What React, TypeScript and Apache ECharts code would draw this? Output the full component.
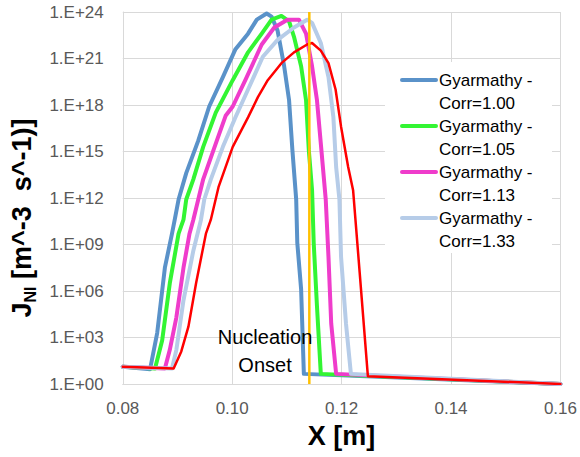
import React, { useEffect, useRef } from "react";
import * as echarts from "echarts";

// Axis ranges and ticks
const X_MIN = 0.08;
const X_MAX = 0.16;
const X_STEP = 0.02;
const Y_MIN = 1;
const Y_MAX = 1e24;
const Y_DECADE_STEP = 3;

// Nucleation onset position (m)
const ONSET_X = 0.1141;

const legendNames = [
  "Gyarmathy - Corr=1.00",
  "Gyarmathy - Corr=1.05",
  "Gyarmathy - Corr=1.13",
  "Gyarmathy - Corr=1.33",
];
const legendColors = ["#5a92c9", "#33f533", "#ef3ccb", "#b6cce8"];
const redName = "Reference";
const redColor = "#ff0000";
const onsetColor = "#ffc000";

// [x (m), J_NI (m^-3 s^-1)]
const corr100: [number, number][] = [
  [0.08, 13], [0.085, 9], [0.0863, 2e3], [0.0877, 3.2e7], [0.089, 5e9], [0.0895, 4e10],
  [0.0902, 8e11], [0.0916, 4e13], [0.0938, 5e15], [0.0958, 8e17], [0.0983, 6.3e19],
  [0.1006, 4e21], [0.1029, 4e22], [0.1045, 3.2e23], [0.1063, 8e23], [0.1072, 5e23],
  [0.1083, 6.3e22], [0.1095, 3.2e20], [0.1104, 2e18], [0.111, 1.3e15], [0.1117, 8e11],
  [0.1119, 1.3e9], [0.1126, 1.3e6], [0.1131, 4.5], [0.16, 1],
];
const corr105: [number, number][] = [
  [0.08, 13], [0.0859, 10], [0.0872, 630], [0.0886, 3.2e6], [0.0902, 5e9], [0.0911, 4e10],
  [0.0916, 8e11], [0.0929, 1.6e13], [0.0947, 2e15], [0.097, 3.2e17], [0.1001, 4e19],
  [0.1029, 2.5e21], [0.1054, 4e22], [0.1072, 3.2e23], [0.109, 5.6e23], [0.1104, 2.5e23],
  [0.1113, 2.5e22], [0.1126, 3.2e20], [0.1135, 2e18], [0.114, 1.3e15], [0.1146, 3.2e12],
  [0.1149, 1.3e9], [0.1155, 1e5], [0.1162, 4.5], [0.16, 1],
];
const corr113: [number, number][] = [
  [0.08, 13], [0.0877, 10], [0.0886, 160], [0.0898, 2e4], [0.0911, 3.2e7], [0.0922, 5e9],
  [0.0929, 4e10], [0.0938, 8e11], [0.0947, 1.6e13], [0.097, 3.2e15], [0.0988, 2e17],
  [0.1001, 8e17], [0.1024, 4e19], [0.1054, 8e21], [0.1077, 1e23], [0.1101, 3.2e23],
  [0.1122, 3.2e23], [0.1135, 4e22], [0.1146, 3.2e20], [0.1155, 2e18], [0.1163, 1.3e15],
  [0.1171, 8e11], [0.1176, 1.6e8], [0.1181, 8e3], [0.119, 4.5], [0.16, 1],
];
const corr133: [number, number][] = [
  [0.08, 13], [0.089, 10], [0.0898, 160], [0.0911, 2.5e5], [0.0929, 4e8], [0.0943, 4e10],
  [0.0949, 8e11], [0.0961, 1.6e13], [0.0983, 2e15], [0.1006, 1.6e17], [0.1029, 1e19],
  [0.1056, 1.3e21], [0.1083, 1.6e22], [0.1113, 1e23], [0.1137, 3.2e23], [0.1146, 2e23],
  [0.1162, 1e22], [0.1176, 6.3e19], [0.1185, 1.6e17], [0.119, 1e14], [0.1196, 8e11],
  [0.1199, 1.6e8], [0.1208, 8e3], [0.1217, 4.5], [0.16, 1],
];
const redCurve: [number, number][] = [
  [0.08, 13], [0.0893, 10], [0.0907, 126], [0.092, 5e3], [0.0934, 3.2e6], [0.0952, 5e9],
  [0.0961, 4e10], [0.0975, 5e12], [0.1001, 2e15], [0.1029, 1.6e17], [0.1047, 3.2e18],
  [0.1065, 4e19], [0.109, 5e20], [0.1113, 2.5e21], [0.1137, 8e21], [0.1146, 1e22],
  [0.1162, 3.2e21], [0.1176, 5e20], [0.1189, 1e19], [0.1199, 4e16], [0.1212, 1e14],
  [0.1221, 3.2e12], [0.1233, 1.6e7], [0.1248, 3.2], [0.16, 1],
];
const seriesData = [corr100, corr105, corr113, corr133];

const FONT = '"Liberation Sans", Arial, sans-serif';

export default function App() {
  const ref = useRef<HTMLDivElement>(null);
  useEffect(() => {
    if (!ref.current) return;
    const chart = echarts.init(ref.current, undefined, { renderer: "svg" });
    const mk = (name: string, data: [number, number][], color: string, width: number) => ({
      name,
      type: "line",
      data,
      symbol: "none",
      lineStyle: { color, width, cap: "round", join: "round" },
      itemStyle: { color },
      emphasis: { disabled: true },
    });

    // Legend box (drawn as graphic for exact Excel-like two-line entries)
    const LEG_X = 385, LEG_Y = 62, LEG_W = 167, LEG_H = 191;
    const legendEls: any[] = [
      { type: "rect", z: 1, shape: { x: LEG_X, y: LEG_Y, width: LEG_W, height: LEG_H }, style: { fill: "#fff" } },
    ];
    legendNames.forEach((n, i) => {
      const cy = LEG_Y + 18 + 46 * i;
      const parts = n.split(" Corr");
      legendEls.push({
        type: "line",
        z: 5,
        shape: { x1: LEG_X + 17, y1: cy, x2: LEG_X + 51, y2: cy },
        style: { stroke: legendColors[i], lineWidth: 4, lineCap: "round" },
      });
      legendEls.push({
        type: "text",
        z: 5,
        x: LEG_X + 54,
        y: cy - 11.5,
        style: {
          text: parts[0] + "\nCorr" + parts[1],
          fontSize: 17,
          lineHeight: 23,
          fontFamily: FONT,
          fill: "#000",
          align: "left",
          verticalAlign: "top",
        },
      });
    });

    chart.setOption({
      animation: false,
      textStyle: { fontFamily: FONT },
      grid: { left: 115, right: 18, top: 12, bottom: 73, containLabel: false },
      xAxis: {
        type: "value",
        min: X_MIN,
        max: X_MAX,
        interval: X_STEP,
        name: "X [m]",
        nameLocation: "middle",
        nameGap: 38,
        nameTextStyle: { fontSize: 27, fontWeight: "bold", color: "#000", fontFamily: FONT },
        axisLine: { show: true, lineStyle: { color: "#d9d9d9" } },
        axisTick: { show: false },
        splitLine: { show: true, lineStyle: { color: "#d9d9d9" } },
        axisLabel: { fontSize: 17, color: "#595959", margin: 16, formatter: (v: number) => v.toFixed(2) },
      },
      yAxis: {
        type: "log",
        logBase: 10,
        min: Y_MIN,
        max: Y_MAX,
        interval: Y_DECADE_STEP,
        name: "{j|J}{s|NI}{t| [m^-3  s^-1)]}",
        nameLocation: "middle",
        nameGap: 82,
        nameRotate: 90,
        nameTextStyle: {
          fontFamily: FONT,
          padding: [0, 40, 0, 0],
          rich: {
            j: { fontSize: 27, fontWeight: "bold", color: "#000", lineHeight: 34, fontFamily: FONT },
            s: { fontSize: 16, fontWeight: "bold", color: "#000", verticalAlign: "bottom", lineHeight: 34, fontFamily: FONT },
            t: { fontSize: 27, fontWeight: "bold", color: "#000", lineHeight: 34, fontFamily: FONT },
          },
        },
        axisLine: { show: true, lineStyle: { color: "#d9d9d9" } },
        axisTick: { show: false },
        splitLine: { show: true, lineStyle: { color: "#d9d9d9" } },
        axisLabel: {
          fontSize: 17,
          color: "#595959",
          margin: 19,
          formatter: (v: number) => "1.E+" + String(Math.round(Math.log10(v))).padStart(2, "0"),
        },
      },
      graphic: [
        ...legendEls,
        {
          type: "text",
          z: 10,
          x: 265,
          y: 351,
          style: {
            text: "Nucleation\nOnset",
            align: "center",
            verticalAlign: "middle",
            fontSize: 20,
            lineHeight: 28,
            fontFamily: FONT,
            fill: "#000",
          },
        },
      ],
      series: [
        ...seriesData.map((d, i) => mk(legendNames[i], d, legendColors[i], 4)),
        mk(redName, redCurve, redColor, 2.5),
        {
          name: "Nucleation Onset",
          type: "line",
          data: [[ONSET_X, Y_MIN], [ONSET_X, Y_MAX]],
          symbol: "none",
          lineStyle: { color: onsetColor, width: 2.5 },
          emphasis: { disabled: true },
          z: 3,
        },
      ],
    });
    return () => chart.dispose();
  }, []);
  return <div ref={ref} style={{ position: "absolute", left: 0, top: 0, width: 580, height: 457 }} />;
}
